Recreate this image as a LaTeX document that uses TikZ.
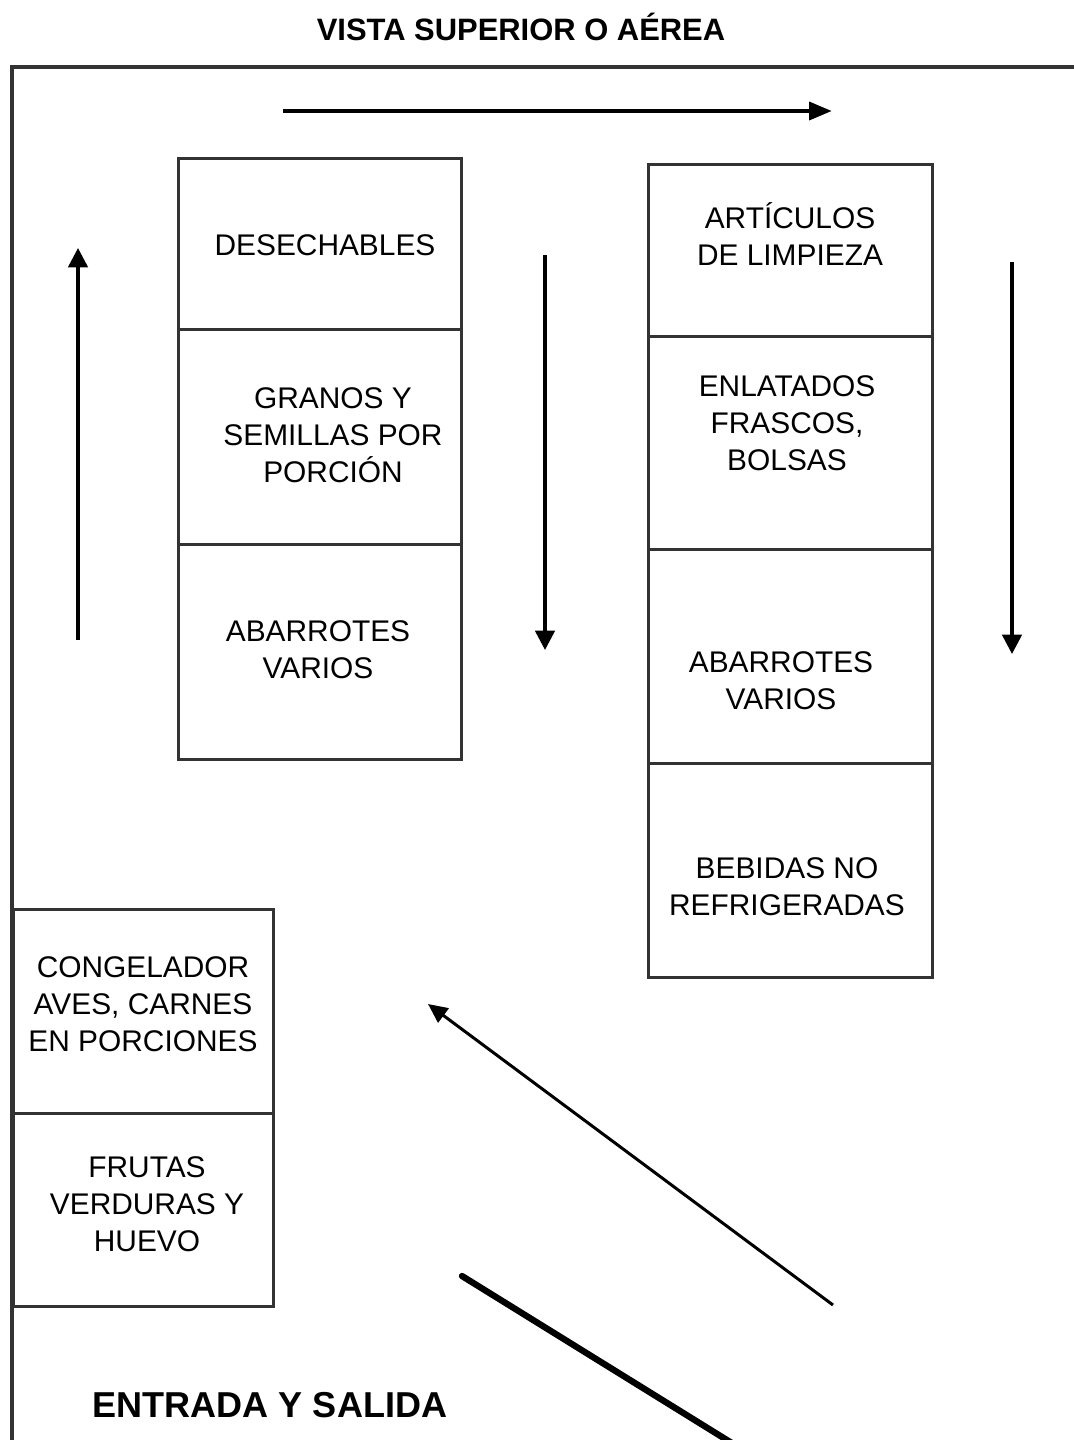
\documentclass[tikz,border=0pt]{standalone}
\usepackage{fontspec}
\setmainfont{Liberation Sans}
\usetikzlibrary{arrows.meta}
\tikzset{
  shelf/.style={draw=black!80, line width=1.8pt, anchor=north west, inner sep=0pt},
  label/.style={align=center, font=\fontsize{17}{21}\selectfont, inner sep=0pt},
  flow/.style={black, line width=2pt, -{Triangle[length=11pt,width=11pt]}},
}
\begin{document}
\begin{tikzpicture}[x=0.02cm, y=-0.02cm]
            \useasboundingbox (0,0) rectangle (1074,1440);
            % store outline
            \draw[black!80, line width=1.8pt] (1074,67) -- (12,67) -- (12,1440);
            % left shelf
            \node[shelf, minimum width=283*0.02cm, minimum height=171*0.02cm] (des) at (177,157) {};
            \node[shelf, minimum width=283*0.02cm, minimum height=215*0.02cm] (gra) at (177,328) {};
            \node[shelf, minimum width=283*0.02cm, minimum height=215*0.02cm] (aba1) at (177,543) {};
            % right shelf
            \node[shelf, minimum width=284*0.02cm, minimum height=172*0.02cm] (art) at (647,163) {};
            \node[shelf, minimum width=284*0.02cm, minimum height=213*0.02cm] (enl) at (647,335) {};
            \node[shelf, minimum width=284*0.02cm, minimum height=214*0.02cm] (aba2) at (647,548) {};
            \node[shelf, minimum width=284*0.02cm, minimum height=214*0.02cm] (beb) at (647,762) {};
            % corner shelf
            \node[shelf, minimum width=260*0.02cm, minimum height=204*0.02cm] (con) at (12,908) {};
            \node[shelf, minimum width=260*0.02cm, minimum height=193*0.02cm] (fru) at (12,1112) {};
            % labels
            \node[label] (tdes) at (325,245) {DESECHABLES};
            \node[label] (tgra) at (333,435) {GRANOS Y\\SEMILLAS POR\\PORCIÓN};
            \node[label] (taba1) at (318,650) {ABARROTES\\VARIOS};
            \node[label] (tart) at (790,234) {ARTÍCULOS\\DE LIMPIEZA};
            \node[label] (tenl) at (787,423) {ENLATADOS\\FRASCOS,\\BOLSAS};
            \node[label] (taba2) at (781,681) {ABARROTES\\VARIOS};
            \node[label] (tbeb) at (787,887) {BEBIDAS NO\\REFRIGERADAS};
            \node[label] (tcon) at (143,1004) {CONGELADOR\\AVES, CARNES\\EN PORCIONES};
            \node[label] (tfru) at (147,1204) {FRUTAS\\VERDURAS Y\\HUEVO};
            \node[font=\bfseries\fontsize{17.6}{21}\selectfont] (title) at (521,27) {VISTA SUPERIOR O AÉREA};
            \node[font=\bfseries\fontsize{20.5}{24}\selectfont] (door) at (270,1405) {ENTRADA Y SALIDA};
            % walking route
            \coordinate (r1) at (78,640);
            \coordinate (r2) at (78,248);
            \coordinate (r3) at (283,111);
            \coordinate (r4) at (832,111);
            \coordinate (r5) at (545,255);
            \coordinate (r6) at (545,650);
            \coordinate (r7) at (1012,262);
            \coordinate (r8) at (1012,654);
            \coordinate (r9) at (833,1305);
            \coordinate (r10) at (428,1004);
            \coordinate (d1) at (462,1276);
            \coordinate (d2) at (735,1445);
            \draw[flow] (r1) -- (r2);
            \draw[flow, line width=2.6pt, -{Triangle[length=13pt,width=10pt]}] (r3) -- (r4);
            \draw[flow] (r5) -- (r6);
            \draw[flow] (r7) -- (r8);
            \draw[flow, line width=1.7pt, -{Triangle[length=11pt,width=10pt]}] (r9) -- (r10);
            \draw[black, line width=3.6pt, line cap=round] (d1) -- (d2);

        \end{tikzpicture}
\end{document}
